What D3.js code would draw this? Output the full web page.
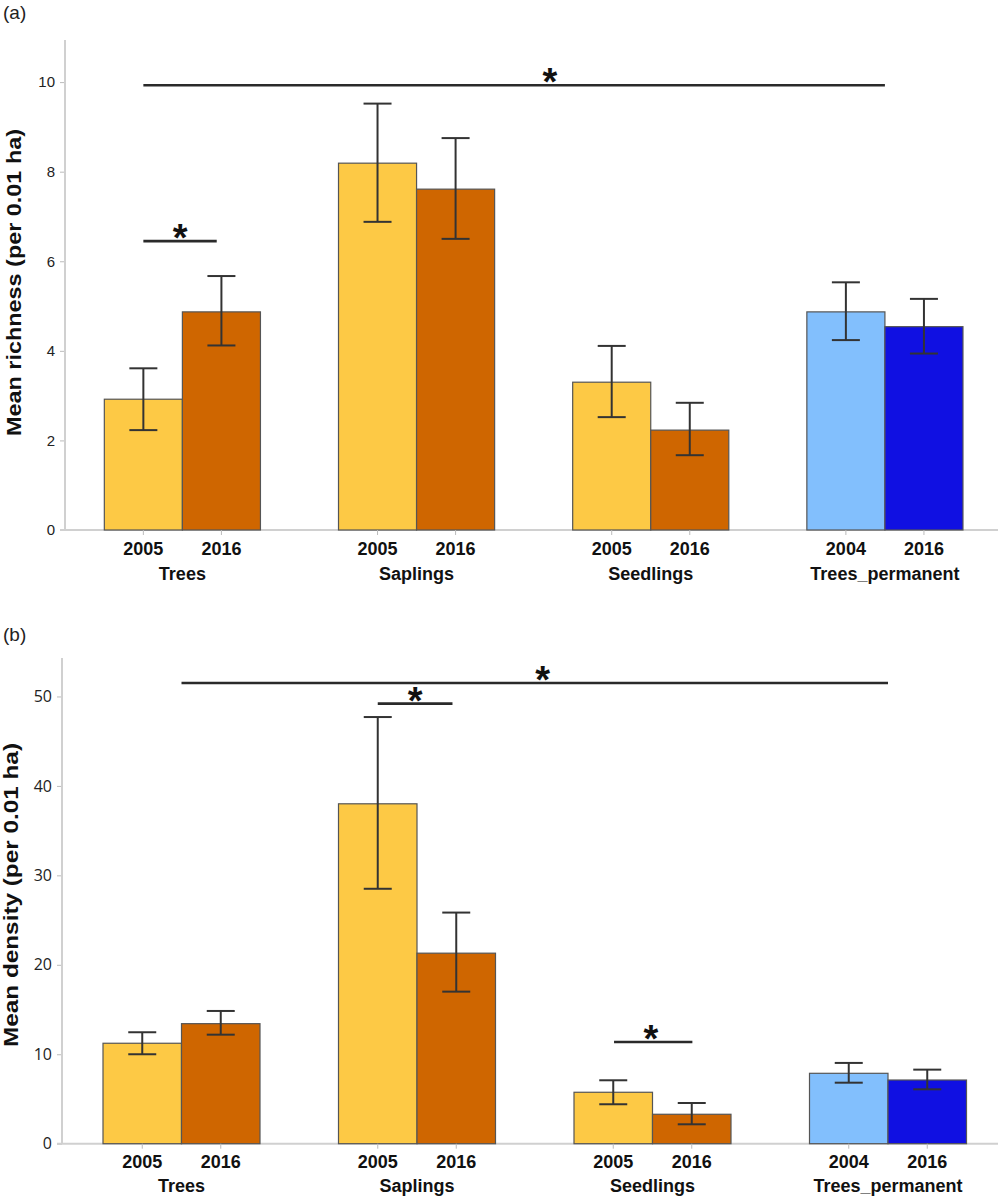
<!DOCTYPE html>
<html><head><meta charset="utf-8">
<script src="https://cdn.jsdelivr.net/npm/d3@7"></script>
<style>body{margin:0;background:#fff}svg{display:block}</style>
</head><body>
<script>
// ---- data ----
const groups = ["Trees","Saplings","Seedlings","Trees_permanent"];
const yearsByGroup = [["2005","2016"],["2005","2016"],["2005","2016"],["2004","2016"]];
const colorsByGroup = [["#FDC945","#CF6600"],["#FDC945","#CF6600"],["#FDC945","#CF6600"],["#82BFFD","#1010E2"]];

const richMean  = [[2.92,4.87],[8.19,7.61],[3.30,2.23],[4.87,4.54]];
const richUpper = [[3.61,5.67],[9.52,8.75],[4.11,2.84],[5.53,5.16]];
const richLower = [[2.23,4.12],[6.88,6.50],[2.52,1.67],[4.24,3.94]];
const richTicks = [0,2,4,6,8,10];
// significance bars: [fromGroup, fromFrac, toGroup, toFrac, value, starGroup, starFrac]
const richSig = [[0,0.25,3,0.5,9.93,1,1.354],[0,0.25,0,0.72,6.45,0,0.485]];

const densMean  = [[11.23,13.42],[38.0,21.3],[5.75,3.29],[7.87,7.12]];
const densUpper = [[12.46,14.84],[47.7,25.84],[7.09,4.55],[9.03,8.28]];
const densLower = [[10.0,12.19],[28.5,17.0],[4.41,2.17],[6.82,6.08]];
const densTicks = [0,10,20,30,40,50];
const densSig = [[0,0.5,3,0.5,51.5,1,1.30],[1,0.25,1,0.726,49.2,1,0.488],[2,0.255,2,0.754,11.37,2,0.49]];

const W = 1000, H = 1197;
const svg = d3.select("body").append("svg").attr("width",W).attr("height",H)
  .style("font-family","'Liberation Sans', Arial, sans-serif");

function panel(o){
  const g = svg.append("g");
  const y = d3.scaleLinear().domain([0,o.ymax]).range([o.y0,o.y1]);
  const x = d3.scaleBand().domain(groups).range(o.xr).paddingInner(1/3).paddingOuter(1/6);
  const xs = d3.scaleBand().domain([0,1]).range([0,x.bandwidth()]);

  g.append("text").attr("x",3).attr("y",o.lblY).attr("font-size",19).attr("fill","#222").text(o.label);

  // y axis
  const ya = g.append("g").attr("transform",`translate(${o.ax},0)`)
    .call(d3.axisLeft(y).tickValues(o.ticks).tickSize(5).tickPadding(5).tickFormat(d3.format("d")));
  ya.select(".domain").remove();
  ya.selectAll(".tick line").attr("stroke","#bbb");
  ya.selectAll(".tick text").attr("font-size",o.tickSize).attr("fill","#222").attr("font-family",o.tickFont);
  g.append("line").attr("x1",o.ax).attr("x2",o.ax).attr("y1",o.y0).attr("y2",o.y1)
    .attr("stroke","#d0d0d0").attr("stroke-width",2);

  g.append("text").attr("transform",`translate(${o.ylx},${o.ylc}) rotate(-90)`)
    .attr("text-anchor","middle").attr("font-weight","bold").attr("font-size",21).attr("fill","#111")
    .attr("textLength",o.ylLen).attr("lengthAdjust","spacingAndGlyphs")
    .text(o.ytitle);

  // x axis line
  g.append("line").attr("x1",o.ax-5).attr("x2",998).attr("y1",y(0)).attr("y2",y(0))
    .attr("stroke","#d0d0d0").attr("stroke-width",2);

  groups.forEach((gr,gi)=>{
    [0,1].forEach(k=>{
      const bx = x(gr)+xs(k), bw = xs.bandwidth(), cx = bx+bw/2;
      g.append("rect").attr("x",bx).attr("y",y(o.mean[gi][k])).attr("width",bw)
        .attr("height",y(0)-y(o.mean[gi][k])).attr("fill",colorsByGroup[gi][k])
        .attr("stroke","#555").attr("stroke-width",1.2);
      g.append("line").attr("x1",cx).attr("x2",cx).attr("y1",y(0)).attr("y2",y(0)+5).attr("stroke","#bbb");
      g.append("text").attr("x",cx).attr("y",y(0)+24.5).attr("text-anchor","middle")
        .attr("font-weight","bold").attr("font-size",18).attr("fill","#111").text(yearsByGroup[gi][k]);
      const eb = g.append("g").attr("stroke","#333").attr("stroke-width",2);
      eb.append("line").attr("x1",cx).attr("x2",cx).attr("y1",y(o.upper[gi][k])).attr("y2",y(o.lower[gi][k]));
      [o.upper[gi][k],o.lower[gi][k]].forEach(v=>{
        eb.append("line").attr("x1",cx-14).attr("x2",cx+14).attr("y1",y(v)).attr("y2",y(v));
      });
    });
    g.append("text").attr("x",x(gr)+x.bandwidth()/2).attr("y",y(0)+o.grpDy).attr("text-anchor","middle")
      .attr("font-weight","bold").attr("font-size",18).attr("fill","#111").text(gr);
  });

  o.sig.forEach(s=>{
    const x1 = x(groups[s[0]])+s[1]*x.bandwidth();
    const x2 = x(groups[s[2]])+s[3]*x.bandwidth();
    const sx = x(groups[s[5]])+s[6]*x.bandwidth();
    const yy = y(s[4]);
    g.append("line").attr("x1",x1).attr("x2",x2).attr("y1",yy).attr("y2",yy)
      .attr("stroke","#2a2a2a").attr("stroke-width",2.6);
    g.append("text").attr("x",sx).attr("y",yy+10).attr("text-anchor","middle")
      .attr("font-weight","bold").attr("font-size",38).attr("fill","#111").text("*");
  });
}

panel({label:"(a)", lblY:19, ymax:10.94, y0:530, y1:40, ax:65, xr:[65.3,1002], ticks:richTicks,
  mean:richMean, upper:richUpper, lower:richLower, sig:richSig, ytitle:"Mean richness (per 0.01 ha)",
  ylx:20.5, ylc:282.5, ylLen:307,
  tickFont:"'Liberation Sans', Arial, sans-serif", tickSize:15, grpDy:49.5});
panel({label:"(b)", lblY:641, ymax:54.3, y0:1143.7, y1:658, ax:62, xr:[63.75,1005.75], ticks:densTicks,
  mean:densMean, upper:densUpper, lower:densLower, sig:densSig, ytitle:"Mean density (per 0.01 ha)",
  ylx:18, ylc:895, ylLen:304,
  tickFont:"'Open Sans', 'DejaVu Sans', sans-serif", tickSize:16, grpDy:48});
</script>
</body></html>
